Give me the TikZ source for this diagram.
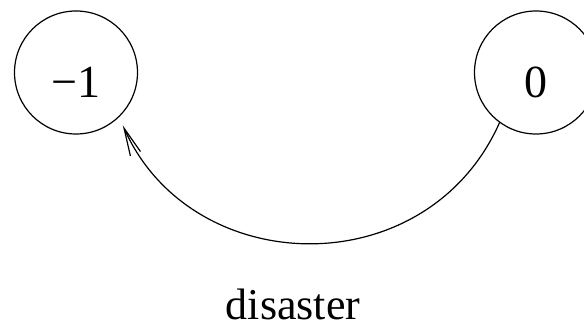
\documentclass[tikz,border=0pt]{standalone}
\usepackage{fontspec}
\setmainfont{Liberation Serif}
\usetikzlibrary{arrows.meta}

\begin{document}
\begin{tikzpicture}[x=1pt,y=-1pt,line cap=round,line join=round,
    state/.style={draw,circle,line width=1.2pt,minimum size=123pt,inner sep=0pt,
      text height=51pt,text depth=0pt,font=\fontsize{46}{50}\selectfont},
    tag/.style={font=\fontsize{44}{50}\selectfont,anchor=base,inner sep=0pt,text depth=0pt}]
  \useasboundingbox (0,0) rectangle (584,328);
  % 两个状态
  \node[state] (minus) at (76,72.5) {−1};
  \node[state] (zero) at (536,72.5) {0};
  % 跌落之弧
  \draw[line width=1.2pt,-{Straight Barb[length=28pt,width=11pt,line width=1.2pt]},shorten >=9pt]
    (zero.-126) to[out=-114,in=-66,looseness=1.2] (minus.-46);
  \node[tag] (fall) at (293,320) {disaster};
\end{tikzpicture}
\end{document}
